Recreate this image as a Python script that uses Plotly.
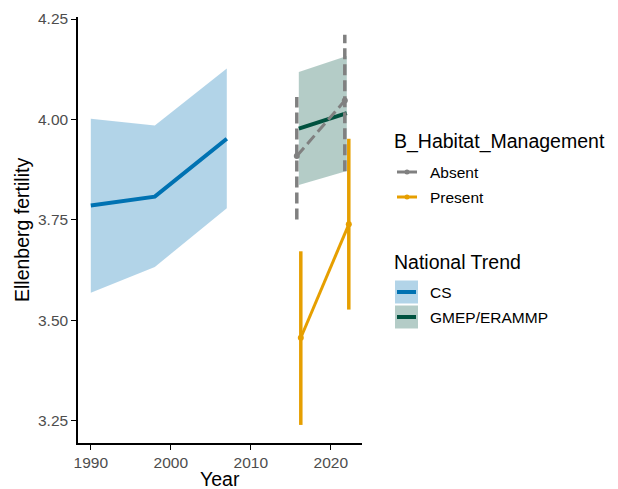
import plotly.graph_objects as go

# ---- data ----
cs_year = [1990, 1998, 2007]
cs_mean = [3.786, 3.808, 3.952]
cs_lo = [3.569, 3.633, 3.779]
cs_hi = [4.002, 3.985, 4.127]

gm_year = [2016, 2022]
gm_mean = [3.977, 4.016]
gm_lo = [3.837, 3.872]
gm_hi = [4.118, 4.158]

ab_year = [2015.75, 2021.75]
ab_mean = [3.909, 4.047]
ab_lo = [3.751, 3.871]
ab_hi = [4.056, 4.211]

pr_year = [2016.25, 2022.25]
pr_mean = [3.457, 3.739]
pr_lo = [3.240, 3.527]
pr_hi = [3.672, 3.952]

x_ticks = [1990, 2000, 2010, 2020]
y_ticks = [3.25, 3.50, 3.75, 4.00, 4.25]
y_tick_labels = ["3.25", "3.50", "3.75", "4.00", "4.25"]

CS_LINE = "#0072B2"
CS_FILL = "rgba(0,114,178,0.3)"
GM_LINE = "#00523F"
GM_FILL = "rgba(8,85,68,0.3)"
GREY = "#808080"
ORANGE = "#E69F00"

W, H = 618, 489
L, R, T, B = 78, 256, 17, 46
PW, PH = W - L - R, H - T - B

TXT = 15.5
TTL = 19.5

fig = go.Figure()

# ribbons
fig.add_trace(go.Scatter(x=cs_year + cs_year[::-1], y=cs_hi + cs_lo[::-1], fill="toself",
                         fillcolor=CS_FILL, line=dict(width=0), mode="lines", hoverinfo="skip"))
fig.add_trace(go.Scatter(x=gm_year + gm_year[::-1], y=gm_hi + gm_lo[::-1], fill="toself",
                         fillcolor=GM_FILL, line=dict(width=0), mode="lines", hoverinfo="skip"))
# trend lines
fig.add_trace(go.Scatter(x=cs_year, y=cs_mean, mode="lines", line=dict(color=CS_LINE, width=4)))
fig.add_trace(go.Scatter(x=gm_year, y=gm_mean, mode="lines", line=dict(color=GM_LINE, width=4)))

# error bars as vertical lines
for xs, lo, hi, col, dash in [(ab_year, ab_lo, ab_hi, GREY, "11px,5px"),
                              (pr_year, pr_lo, pr_hi, ORANGE, "solid")]:
    for x, a, b in zip(xs, lo, hi):
        fig.add_trace(go.Scatter(x=[x, x], y=[a, b], mode="lines",
                                 line=dict(color=col, width=3.5, dash=dash), hoverinfo="skip"))

fig.add_trace(go.Scatter(x=ab_year, y=ab_mean, mode="lines+markers",
                         line=dict(color=GREY, width=3, dash="11px,5px"),
                         marker=dict(color=GREY, size=6)))
fig.add_trace(go.Scatter(x=pr_year, y=pr_mean, mode="lines+markers",
                         line=dict(color=ORANGE, width=3),
                         marker=dict(color=ORANGE, size=6)))

fig.update_traces(showlegend=False)

# ---- manual legend and axis titles (pixel helpers) ----
def px(x):
    return (x - L) / PW

def py(y):
    return (H - B - y) / PH

shapes = []
annotations = []

def text(x, y, s, size, color="black", xanchor="left", angle=0):
    annotations.append(dict(x=px(x), y=py(y), xref="paper", yref="paper", text=s,
                            showarrow=False, xanchor=xanchor, yanchor="middle",
                            textangle=angle, font=dict(size=size, color=color)))

text(220, 479, "Year", TTL, xanchor="center")
text(22, 230, "Ellenberg fertility", TTL, xanchor="center", angle=-90)

text(392, 141, "B_Habitat_Management", TTL)
for yy, col, lab in [(172, GREY, "Absent"), (197, ORANGE, "Present")]:
    shapes.append(dict(type="line", xref="paper", yref="paper", x0=px(397), x1=px(417),
                       y0=py(yy), y1=py(yy), line=dict(color=col, width=3)))
    shapes.append(dict(type="circle", xref="paper", yref="paper", x0=px(404.5), x1=px(409.5),
                       y0=py(yy + 2.5), y1=py(yy - 2.5), fillcolor=col, line=dict(width=0)))
    text(428, yy, lab, TXT)

text(392, 262, "National Trend", TTL)
for yy, fc, lc, lab in [(292, CS_FILL, CS_LINE, "CS"), (317, GM_FILL, GM_LINE, "GMEP/ERAMMP")]:
    shapes.append(dict(type="rect", xref="paper", yref="paper", x0=px(395), x1=px(418),
                       y0=py(yy + 11.5), y1=py(yy - 11.5), fillcolor=fc, line=dict(width=0)))
    shapes.append(dict(type="line", xref="paper", yref="paper", x0=px(397), x1=px(416),
                       y0=py(yy), y1=py(yy), line=dict(color=lc, width=4)))
    text(428, yy, lab, TXT)

fig.update_layout(
    width=W, height=H,
    margin=dict(l=L, r=R, t=T, b=B, autoexpand=False),
    plot_bgcolor="white", paper_bgcolor="white",
    font=dict(family="Liberation Sans, Arial, sans-serif"),
    showlegend=False,
    shapes=shapes, annotations=annotations,
    xaxis=dict(range=[1988.4, 2023.9], tickvals=x_ticks, showgrid=False, zeroline=False,
               showline=True, linecolor="black", linewidth=1.5, ticks="outside", ticklen=5,
               tickcolor="black", tickwidth=1.2, automargin=False,
               tickfont=dict(size=TXT, color="#4D4D4D")),
    yaxis=dict(range=[3.195, 4.255], tickvals=y_ticks, ticktext=y_tick_labels, showgrid=False,
               zeroline=False, showline=True, linecolor="black", linewidth=1.5, ticks="outside",
               ticklen=5, tickcolor="black", tickwidth=1.2, automargin=False,
               tickfont=dict(size=TXT, color="#4D4D4D")),
)

fig.write_html("out.html")
